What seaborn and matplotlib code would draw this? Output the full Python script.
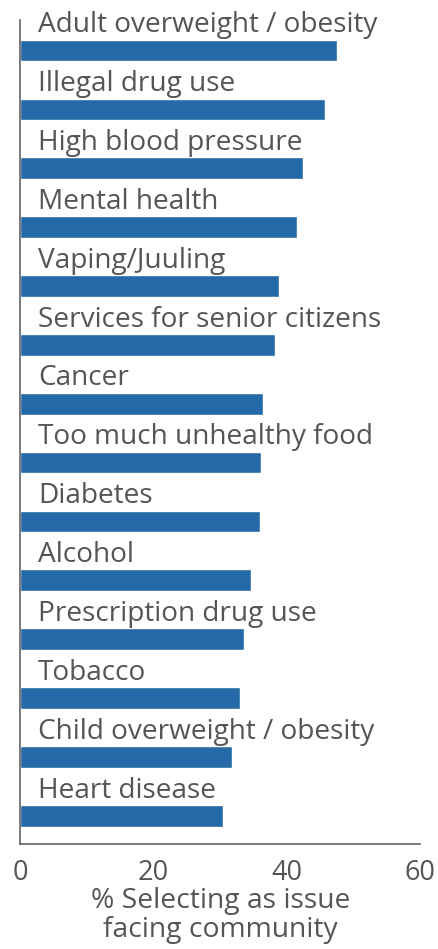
import matplotlib
matplotlib.use("Agg")
import matplotlib.pyplot as plt
import seaborn as sns
import pandas as pd

categories = [
    "Adult overweight / obesity",
    "Illegal drug use",
    "High blood pressure",
    "Mental health",
    "Vaping/Juuling",
    "Services for senior citizens",
    "Cancer",
    "Too much unhealthy food",
    "Diabetes",
    "Alcohol",
    "Prescription drug use",
    "Tobacco",
    "Child overweight / obesity",
    "Heart disease",
]
values = [47.5, 45.7, 42.4, 41.5, 38.8, 38.2, 36.4, 36.1, 35.9, 34.6, 33.5, 32.9, 31.7, 30.4]
x_ticks = [0, 20, 40, 60]
x_label = "% Selecting as issue\nfacing community"

sns.set_style("white")
plt.rcParams["font.family"] = ["Open Sans", "DejaVu Sans"]
text_color = "#555555"
bar_color = "#256aa6"

df = pd.DataFrame({"cat": categories, "val": values})

fig = plt.figure(figsize=(4.38, 9.49), dpi=100)
ax = fig.add_axes([0.0468, 0.1106, 0.912, 0.8684])
sns.barplot(data=df, x="val", y="cat", color=bar_color, width=0.37,
            saturation=1, ax=ax, orient="h")

for i, c in enumerate(categories):
    ax.text(2.6, i - 0.31, c, fontsize=20.2, color=text_color, va="baseline", ha="left")

ax.set_xlim(0, 60)
ax.set_ylim(len(categories) - 0.52, -0.52)
ax.set_xticks(x_ticks)
ax.set_xticklabels([str(t) for t in x_ticks], fontsize=19.5, color=text_color)
ax.set_yticks(range(len(categories)))
ax.set_yticklabels([])
ax.set_ylabel("")
ax.set_xlabel(x_label, fontsize=20.3, color=text_color, linespacing=1.05, labelpad=0)
ax.tick_params(axis="x", direction="in", length=5.8, width=1.1, color=text_color, pad=11)
ax.tick_params(axis="y", direction="in", length=5.8, width=1.1, color=text_color)
for s in ["top", "right"]:
    ax.spines[s].set_visible(False)
for s in ["left", "bottom"]:
    ax.spines[s].set_color(text_color)
    ax.spines[s].set_linewidth(1.1)

fig.savefig("out.png", dpi=100)
